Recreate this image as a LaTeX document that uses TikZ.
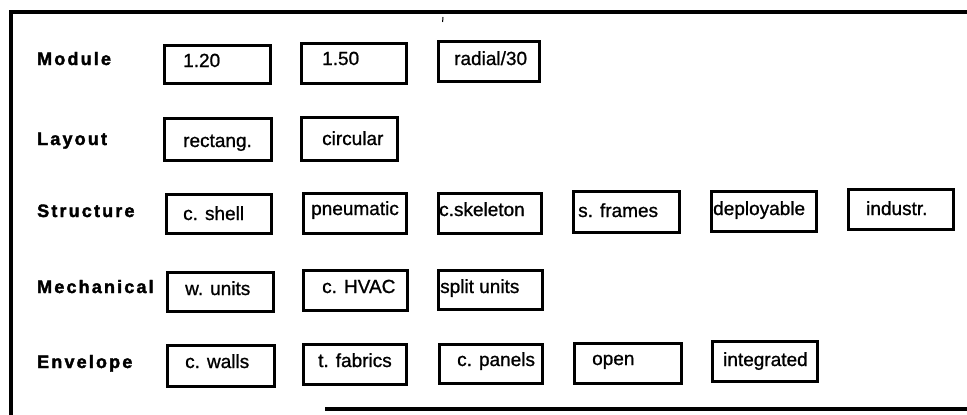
\documentclass[tikz,border=0pt]{standalone}
\usepackage{fontspec}
\setmainfont{Liberation Sans}[FakeBold=1]
\newfontfamily\headfont{Liberation Sans Bold}[LetterSpace=12,FakeBold=2]

\tikzset{
  optbox/.style={draw, line width=3.4pt, inner sep=0pt, anchor=north west},
  opttext/.style={anchor=base west, inner sep=0pt, font=\fontsize{19}{21}\selectfont},
  rowlabel/.style={anchor=base west, inner sep=0pt, font=\headfont\fontsize{18}{20}\selectfont},
  frameline/.style={line width=3.2pt},
}

% #1 name, #2-#5 box corners (x1,y1,x2,y2), #6-#7 text start and baseline, #8 text
\newcommand\choicebox[8]{%
  \node[optbox, minimum width={(#4-#2)*1pt}, minimum height={(#5-#3)*1pt}] (#1) at (#2,#3) {};
  \node[opttext] (#1-t) at (#6,#7) {#8};
}

\begin{document}
\begin{tikzpicture}[x=1pt,y=-1pt]
  \useasboundingbox (0,0) rectangle (967,415);

  % outer frame (open on the right, short at the bottom)
  \coordinate (fbl) at (11,415);
  \coordinate (ftl) at (11,12);
  \coordinate (ftr) at (967,12);
  \coordinate (fb1) at (325,409);
  \coordinate (fb2) at (967,409);
  \draw[frameline] (fbl) -- (ftl) -- (ftr);
  \draw[frameline] (fb1) -- (fb2);
  \draw[line width=1pt] (443,17) -- (442.6,22);

  % row labels
  \node[rowlabel] (lmod)  at (37,65)  {Module};
  \node[rowlabel] (llay)  at (37,145) {Layout};
  \node[rowlabel] (lstr)  at (37,217) {Structure};
  \node[rowlabel] (lmech) at (37,293) {Mechanical};
  \node[rowlabel] (lenv)  at (37,368) {Envelope};

  % Module
  \choicebox{m1}{163}{44}{269}{82}{183}{67}{1.20}
  \choicebox{m2}{300}{42}{405}{82}{322}{65}{1.50}
  \choicebox{m3}{437}{40}{538}{80}{454}{65}{radial/30}

  % Layout
  \choicebox{y1}{163}{117}{270}{159}{183}{147}{rectang.}
  \choicebox{y2}{300}{116}{396}{159}{322}{145}{circular}

  % Structure
  \choicebox{s1}{165}{193}{270}{232}{183}{220}{c. shell}
  \choicebox{s2}{302}{192}{405}{232}{311}{215}{pneumatic}
  \choicebox{s3}{437}{192}{540}{232}{439}{216}{c.skeleton}
  \choicebox{s4}{572}{190}{678}{231}{578}{217}{s. frames}
  \choicebox{s5}{710}{190}{815}{230}{713}{215}{deployable}
  \choicebox{s6}{847}{188}{952}{228}{866}{215}{industr.}

  % Mechanical
  \choicebox{h1}{166}{271}{272}{310}{185}{295}{w. units}
  \choicebox{h2}{302}{269}{406}{309}{322}{293}{c. HVAC}
  \choicebox{h3}{437}{269}{541}{308}{440}{293}{split units}

  % Envelope
  \choicebox{e1}{166}{344}{273}{385}{185}{368}{c. walls}
  \choicebox{e2}{302}{343}{405}{383}{318}{367}{t. fabrics}
  \choicebox{e3}{438}{343}{541}{382}{457}{366}{c. panels}
  \choicebox{e4}{573}{342}{680}{382}{592}{365}{open}
  \choicebox{e5}{711}{340}{816}{380}{723}{366}{integrated}
\end{tikzpicture}
\end{document}
